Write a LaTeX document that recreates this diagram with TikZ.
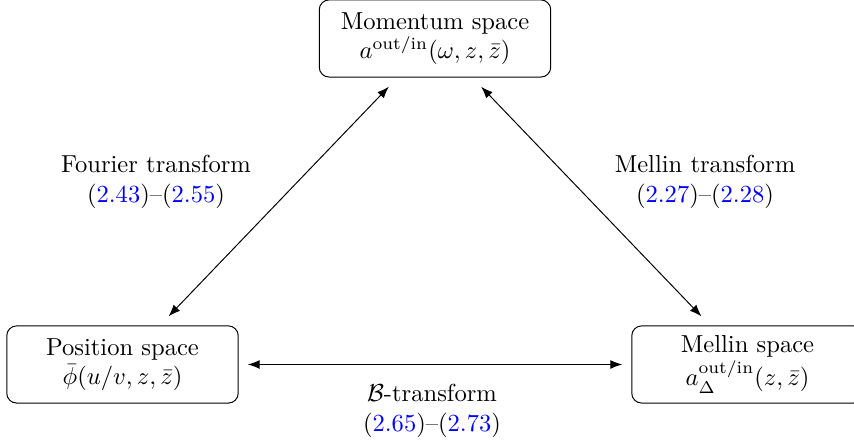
\documentclass[tikz,border=0pt]{standalone}
\usepackage{amsmath}
\usetikzlibrary{arrows.meta}
\begin{document}
\begin{tikzpicture}[x=0.407pt,y=-0.407pt,
  spacebox/.style={draw, rounded corners=4pt, align=center, minimum width=94.2pt, minimum height=31.4pt, outer sep=3.9pt, inner sep=3pt},
  conn/.style={{Latex}-{Latex}, line width=0.4pt},
  lbl/.style={align=center, inner sep=0pt}]
\useasboundingbox (0,0) rectangle (854,446);
\node[spacebox] (mom) at (435,38.5) {Momentum space\\ $a^{\text{out/in}}(\omega,z,\bar z)$};
\node[spacebox] (pos) at (122.5,364.5) {Position space\\ $\bar\phi(u/v,z,\bar z)$};
\node[spacebox] (mel) at (747.5,364.5) {Mellin space\\ $a_{\Delta}^{\text{out/in}}(z,\bar z)$};
\draw[conn] (mom) -- (pos);
\draw[conn] (mom) -- (mel);
\draw[conn] (pos) -- (mel);
\node[lbl] (fl) at (156,182) {Fourier transform\\ (\textcolor{blue}{2.43})--(\textcolor{blue}{2.55})};
\node[lbl] (ml) at (705,182) {Mellin transform\\ (\textcolor{blue}{2.27})--(\textcolor{blue}{2.28})};
\node[lbl] (bl) at (432,411) {$\mathcal{B}$-transform\\ (\textcolor{blue}{2.65})--(\textcolor{blue}{2.73})};
\end{tikzpicture}
\end{document}
